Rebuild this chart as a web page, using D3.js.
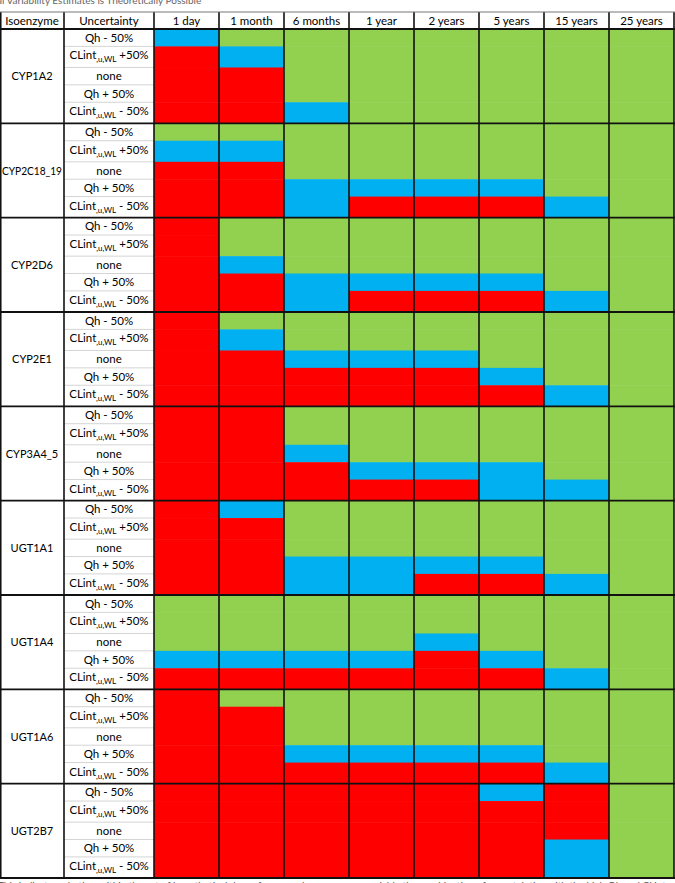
<!DOCTYPE html>
<head>
<meta charset="utf-8">
<script src="https://d3js.org/d3.v7.min.js"></script>
<style>
  body { margin: 0; background: #fff; }
  svg text { font-family: Lato, "Open Sans", sans-serif; }
</style>
</head>
<body>
<div id="my_dataviz"></div>

<script>
    var isoenzymes = ["CYP1A2", "CYP2C18_19", "CYP2D6", "CYP2E1", "CYP3A4_5", "UGT1A1", "UGT1A4", "UGT1A6", "UGT2B7"];
    var uncertainties = ["Qh - 50%", "CLint,u,WL +50%", "none", "Qh + 50%", "CLint,u,WL - 50%"];
    var timepoints = ["1 day", "1 month", "6 months", "1 year", "2 years", "5 years", "15 years", "25 years"];

    // one string per uncertainty row, one letter per time point (R = red, B = blue, G = green)
    var cyp1a2    = ["BGGGGGGG", "RBGGGGGG", "RRGGGGGG", "RRGGGGGG", "RRBGGGGG"];
    var cyp2c18   = ["GGGGGGGG", "BBGGGGGG", "RRGGGGGG", "RRBBBBGG", "RRBRRRBG"];
    var cyp2d6    = ["RGGGGGGG", "RGGGGGGG", "RBGGGGGG", "RRBBBBGG", "RRBRRRBG"];
    var cyp2e1    = ["RGGGGGGG", "RBGGGGGG", "RRBBBGGG", "RRRRRBGG", "RRRRRRBG"];
    var cyp3a4    = ["RRGGGGGG", "RRGGGGGG", "RRBGGGGG", "RRRBBBGG", "RRRRRBBG"];
    var ugt1a1    = ["RBGGGGGG", "RRGGGGGG", "RRGGGGGG", "RRBBBBGG", "RRBBRRBG"];
    var ugt1a4    = ["GGGGGGGG", "GGGGGGGG", "GGGGBGGG", "BBBBRBGG", "RRRRRRBG"];
    var ugt1a6    = ["RGGGGGGG", "RRGGGGGG", "RRGGGGGG", "RRBBBBGG", "RRRRRRBG"];
    var ugt2b7    = ["RRRRRBRG", "RRRRRRRG", "RRRRRRRG", "RRRRRRBG", "RRRRRRBG"];
    var outcomes = [cyp1a2, cyp2c18, cyp2d6, cyp2e1, cyp3a4, ugt1a1, ugt1a4, ugt1a6, ugt2b7];

    var codes = ["R", "B", "G"];
    var codeColors = ["#ff0000", "#00b0f0", "#92d050"];

    var width = 675, height = 883;
    var headTop = 12, headBottom = 29, tableBottom = 878;

    var svg = d3.select("#my_dataviz")
      .append("svg")
        .attr("width", width)
        .attr("height", height);

    var color = d3.scaleOrdinal().domain(codes).range(codeColors);

    // columns
    var x = d3.scaleBand().domain(timepoints).range([154, 674]);
    var colIso = [0, 64], colUnc = [64, 154];

    // rows: groups split into uneven sub rows (subscript rows are taller)
    var yGroup = d3.scaleBand().domain(isoenzymes).range([headBottom, tableBottom]);
    var weights = uncertainties.map(function(u){ return u.indexOf("CLint") == 0 ? 21 : 17.3; });
    var starts = [0];
    weights.forEach(function(w, i){ starts.push(starts[i] + w); });
    var yRow = d3.scaleLinear().domain([0, starts[starts.length - 1]]).range([0, yGroup.bandwidth()]);

    var cells = [];
    isoenzymes.forEach(function(iso, g){
        uncertainties.forEach(function(u, r){
            timepoints.forEach(function(t, c){
                cells.push({iso: iso, row: r, time: t, code: outcomes[g][r][c]});
            });
        });
    });

    // colour cells
    svg.append("g").selectAll("rect")
        .data(cells)
        .enter()
        .append("rect")
            .attr("x", function(d){ return x(d.time); })
            .attr("width", x.bandwidth())
            .attr("y", function(d){ return yGroup(d.iso) + yRow(starts[d.row]); })
            .attr("height", function(d){ return yRow(weights[d.row]) + 0.5; })
            .attr("fill", function(d){ return color(d.code); });

    // light separators in the uncertainty column
    var sep = svg.append("g");
    isoenzymes.forEach(function(iso){
        starts.slice(1, -1).forEach(function(s){
            var yy = yGroup(iso) + yRow(s);
            sep.append("line")
                .attr("x1", colUnc[0]).attr("x2", colUnc[1])
                .attr("y1", yy).attr("y2", yy)
                .attr("stroke", "#d4d4d4").attr("stroke-width", 1);
        });
    });

    // uncertainty labels (with subscript)
    var lab = svg.append("g");
    isoenzymes.forEach(function(iso){
        uncertainties.forEach(function(u, r){
            var yy = yGroup(iso) + yRow(starts[r] + weights[r] / 2);
            var t = lab.append("text")
                .attr("x", (colUnc[0] + colUnc[1]) / 2)
                .attr("y", yy + 4)
                .attr("text-anchor", "middle")
                .attr("font-size", "11.5px")
                .attr("fill", "#000");
            var m = u.match(/^CLint(,u,WL)(.*)$/);
            if(m){
                t.attr("y", yy + 2.5);
                t.append("tspan").text("CLint");
                t.append("tspan").attr("font-size", "8px").attr("dy", 3).text(m[1]);
                t.append("tspan").attr("dy", -3).text(m[2]);
            }else{
                t.text(u);
            }
        });
    });

    // isoenzyme labels
    svg.append("g").selectAll("text")
        .data(isoenzymes)
        .enter()
        .append("text")
            .attr("x", (colIso[0] + colIso[1]) / 2)
            .attr("y", function(d){ return yGroup(d) + yGroup.bandwidth() / 2 + 4; })
            .attr("text-anchor", "middle")
            .attr("font-size", "11px")
            .text(function(d){ return d; })
            .each(function(){
                if(this.getComputedTextLength() > 60){
                    d3.select(this).attr("textLength", 60).attr("lengthAdjust", "spacingAndGlyphs");
                }
            });

    // header
    var head = svg.append("g");
    var heads = [{t: "Isoenzyme", c: (colIso[0] + colIso[1]) / 2}, {t: "Uncertainty", c: (colUnc[0] + colUnc[1]) / 2}]
        .concat(timepoints.map(function(t){ return {t: t, c: x(t) + x.bandwidth() / 2}; }));
    head.selectAll("text")
        .data(heads)
        .enter()
        .append("text")
            .attr("x", function(d){ return d.c; })
            .attr("y", 25)
            .attr("text-anchor", "middle")
            .attr("font-size", "11.5px")
            .text(function(d){ return d.t; });

    // grid lines
    var grid = svg.append("g").attr("stroke", "#111").attr("fill", "none");
    var vx = [0.75, colIso[1], colUnc[1]].concat(timepoints.slice(1).map(function(t){ return x(t); })).concat([674]);
    vx.forEach(function(v){
        grid.append("line")
            .attr("x1", v).attr("x2", v)
            .attr("y1", headTop).attr("y2", tableBottom)
            .attr("stroke-width", 1.6);
    });
    grid.append("line")
        .attr("x1", 0).attr("x2", 675)
        .attr("y1", headTop).attr("y2", headTop)
        .attr("stroke", "#777").attr("stroke-width", 1.2);
    isoenzymes.forEach(function(iso){
        grid.append("line")
            .attr("x1", 0).attr("x2", 675)
            .attr("y1", yGroup(iso)).attr("y2", yGroup(iso))
            .attr("stroke-width", 1.8);
    });
    grid.append("line")
        .attr("x1", 0).attr("x2", 675)
        .attr("y1", tableBottom).attr("y2", tableBottom)
        .attr("stroke-width", 1.8);

    // captions cut by the page edges, as in the source page
    svg.append("text")
        .attr("x", -3).attr("y", 4)
        .attr("font-size", "10px").attr("fill", "#666")
        .text("al Variability Estimates is Theoretically Possible");
    svg.append("text")
        .attr("x", -2).attr("y", 889)
        .attr("font-size", "10px").attr("fill", "#555")
        .text("This indicates whether within the set of hypothetical doses for some dose-exposure variable the combination of uncertainties with the high Qh and CLint");
</script>
</body>
